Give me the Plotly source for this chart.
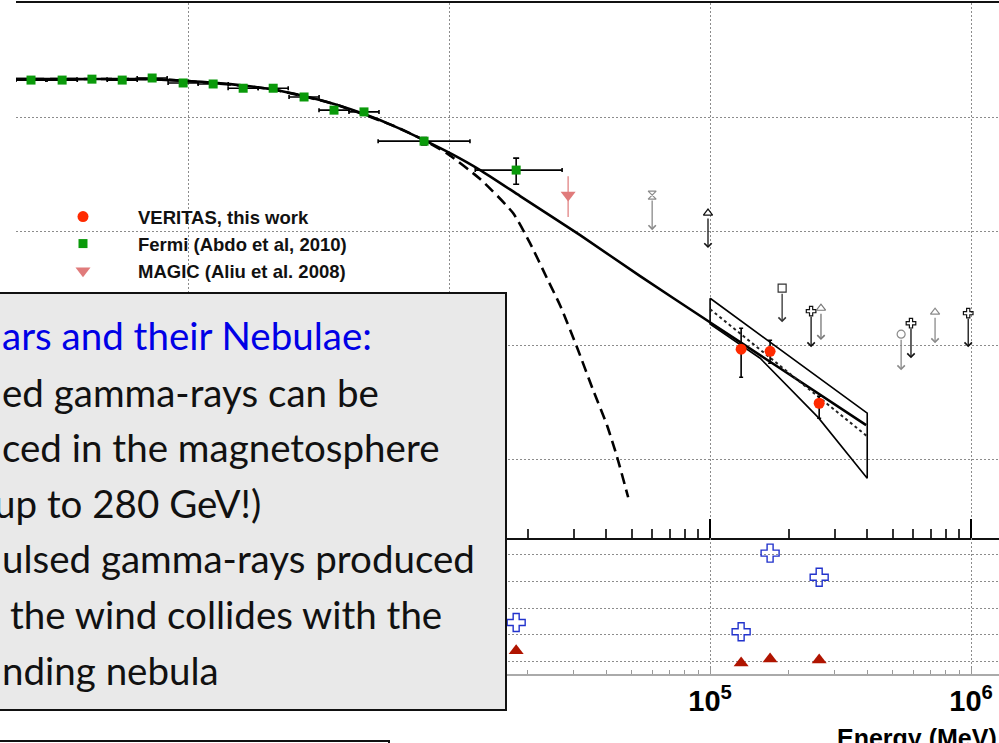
import numpy as np
import plotly.graph_objects as go

# ---------------- data (E in MeV, E^2 dN/dE in erg cm^-2 s^-1) ----------------
fermi_E = [250, 329, 428, 559, 728, 957, 1247, 1625, 2118, 2781, 3622, 4719, 8017, 18070]
fermi_E_lo = [219, 288, 375, 490, 638, 838, 1092, 1423, 1855, 2436, 3173, 4134, 5346, 12590]
fermi_E_hi = [285, 376, 489, 638, 831, 1092, 1424, 1855, 2418, 3175, 4135, 5387, 12020, 27100]
fermi_flux = [2.11e-10, 2.11e-10, 2.15e-10, 2.11e-10, 2.20e-10, 1.99e-10, 1.95e-10,
              1.79e-10, 1.79e-10, 1.50e-10, 1.15e-10, 1.11e-10, 6.15e-11, 3.43e-11]
fermi_flux_lo = [2.05e-10, 2.05e-10, 2.09e-10, 2.05e-10, 2.13e-10, 1.93e-10, 1.89e-10,
                 1.73e-10, 1.72e-10, 1.44e-10, 1.09e-10, 1.04e-10, 5.70e-11, 2.58e-11]
fermi_flux_hi = [2.17e-10, 2.17e-10, 2.21e-10, 2.17e-10, 2.27e-10, 2.05e-10, 2.01e-10,
                 1.85e-10, 1.86e-10, 1.56e-10, 1.21e-10, 1.18e-10, 6.60e-11, 4.37e-11]

veritas_E = [131500, 169800, 261800]
veritas_flux = [9.23e-13, 8.85e-13, 3.10e-13]
veritas_flux_lo = [5.24e-13, 6.95e-13, 2.29e-13]
veritas_flux_hi = [1.41e-12, 1.107e-12, 3.57e-13]

magic_E = [28580]
magic_flux = [2.07e-11]
magic_flux_lo = [1.33e-11]
magic_flux_hi = [3.03e-11]

# upper limits from other instruments
ul_E = [59980, 98170, 188800, 243800, 266000, 539500, 588500, 727800, 975000]
ul_flux = [2.07e-11, 1.44e-11, 3.16e-12, 1.99e-12, 2.11e-12, 1.25e-12, 1.56e-12, 1.95e-12, 1.91e-12]
ul_arrow_end = [1.02e-11, 7.10e-12, 1.59e-12, 9.6e-13, 1.11e-12, 6.04e-13, 7.69e-13, 1.04e-12, 9.6e-13]
ul_symbols = ["hourglass-open", "triangle-up-open", "square-open", "cross-open", "triangle-up-open",
              "circle-open", "cross-open", "triangle-up-open", "cross-open"]
ul_colors = ["#8a8a8a", "#111111", "#333333", "#111111", "#777777",
             "#8a8a8a", "#111111", "#8a8a8a", "#111111"]

# broken power-law fit
bpl_E = [219, 385, 714, 1000, 1449, 2061, 2780, 3622, 4721, 6152, 8017, 10257, 13150,
         18710, 31770, 53950, 98170, 185350, 396300]
bpl_flux = [2.153e-10, 2.153e-10, 2.153e-10, 2.07e-10, 1.945e-10, 1.762e-10, 1.528e-10,
            1.30e-10, 1.062e-10, 8.34e-11, 6.28e-11, 4.73e-11, 3.43e-11, 2.03e-11,
            9.23e-12, 4.03e-12, 1.63e-12, 6.28e-13, 1.99e-13]

# power law with exponential cutoff
ecpl_E = [219, 385, 714, 1000, 2061, 3622, 6152, 8017, 9908, 13150, 17580, 20420, 23710,
          26610, 30900, 35650, 40270, 44050, 48530]
ecpl_flux = [2.153e-10, 2.153e-10, 2.153e-10, 2.07e-10, 1.762e-10, 1.30e-10, 8.34e-11,
             6.28e-11, 4.73e-11, 2.86e-11, 1.44e-11, 7.85e-12, 3.87e-12, 2.24e-12,
             9.6e-13, 4.03e-13, 1.99e-13, 1.04e-13, 4.65e-14]

# VERITAS power-law fit and its confidence bow-tie
pl_E = [1.0e5, 4.0e5]
pl_flux = [2.07e-12, 1.59e-13]
bowtie_E_up = [1.0e5, 4.0e5]
bowtie_flux_up = [2.58e-12, 2.54e-13]
bowtie_E_low = [1.0e5, 1.556e5, 2.594e5, 4.0e5]
bowtie_flux_low = [1.53e-12, 7.69e-13, 2.33e-13, 6.81e-14]

# lower panel
lower_E = [18070, 131500, 169800, 261800]
lower_cross = [2.46, 2.12, 5.04, 4.14]
lower_tri = [1.41, 0.96, 1.11, 1.07]

decades = [2, 3, 4, 5, 6]
minor_mult = [2, 3, 4, 5, 6, 7, 8, 9]
major_ticks = [1e3, 1e4, 1e5, 1e6]
major_labels = ["10<sup>3</sup>", "10<sup>4</sup>", "10<sup>5</sup>", "10<sup>6</sup>"]

box_lines = ["ars and their Nebulae:", "ed gamma-rays can be", "ced in the magnetosphere",
             "up to 280 GeV!)", "ulsed gamma-rays produced", "the wind collides with the",
             "nding nebula"]

# ---------------- figure ----------------
W, H = 999, 743
ML, MR, MT, MB = 16, 0, 3, 69
PW, PH = W - ML - MR, H - MT - MB


def px_x(px):
    return (px - ML) / PW


def px_y(py):
    return (H - MB - py) / PH


fig = go.Figure()

fig.add_trace(go.Scatter(x=ecpl_E, y=ecpl_flux, mode="lines",
                         line=dict(color="black", width=2.6, dash="11px,6px", shape="spline", smoothing=0.6),
                         showlegend=False, hoverinfo="skip"))
fig.add_trace(go.Scatter(x=bpl_E, y=bpl_flux, mode="lines",
                         line=dict(color="black", width=2.6, shape="spline", smoothing=0.6),
                         showlegend=False, hoverinfo="skip"))

bow_x = [bowtie_E_up[0], bowtie_E_up[1]] + bowtie_E_low[::-1] + [bowtie_E_up[0]]
bow_y = [bowtie_flux_up[0], bowtie_flux_up[1]] + bowtie_flux_low[::-1] + [bowtie_flux_up[0]]
fig.add_trace(go.Scatter(x=bow_x, y=bow_y, mode="lines", line=dict(color="black", width=1.6),
                         showlegend=False, hoverinfo="skip"))
fig.add_trace(go.Scatter(x=pl_E, y=pl_flux, mode="lines", line=dict(color="#222", width=2, dash="dot"),
                         showlegend=False, hoverinfo="skip"))

# upper limits
fig.add_trace(go.Scatter(x=ul_E, y=ul_flux, mode="markers",
                         marker=dict(symbol=ul_symbols, size=8, color=ul_colors, line=dict(width=1.2, color=ul_colors)),
                         showlegend=False, hoverinfo="skip"))
for e, f, tip, c in zip(ul_E, ul_flux, ul_arrow_end, ul_colors):
    fig.add_annotation(x=np.log10(e), y=np.log10(tip), ax=np.log10(e), ay=np.log10(f),
                       xref="x", yref="y", axref="x", ayref="y", text="", showarrow=True,
                       arrowhead=4, arrowsize=1.1, arrowwidth=1.3, arrowcolor=c,
                       standoff=0, startstandoff=4)

fermi = go.Scatter(
    x=fermi_E, y=fermi_flux, mode="markers", name="Fermi (Abdo et al, 2010)", legendrank=2,
    marker=dict(symbol="square", size=9, color="#0a9a0a"),
    error_x=dict(type="data", symmetric=False,
                 array=[h - e for h, e in zip(fermi_E_hi, fermi_E)],
                 arrayminus=[e - l for e, l in zip(fermi_E, fermi_E_lo)],
                 color="black", thickness=1.6, width=2),
    error_y=dict(type="data", symmetric=False,
                 array=[h - f for h, f in zip(fermi_flux_hi, fermi_flux)],
                 arrayminus=[f - l for f, l in zip(fermi_flux, fermi_flux_lo)],
                 color="black", thickness=1.6, width=3),
    hoverinfo="skip")
magic = go.Scatter(
    x=magic_E, y=magic_flux, mode="markers", name="MAGIC (Aliu et al. 2008)", legendrank=3,
    marker=dict(symbol="triangle-down", size=13, color="#e07b7b"),
    error_y=dict(type="data", symmetric=False,
                 array=[h - f for h, f in zip(magic_flux_hi, magic_flux)],
                 arrayminus=[f - l for f, l in zip(magic_flux, magic_flux_lo)],
                 color="#e59494", thickness=1.5, width=0),
    hoverinfo="skip")
veritas = go.Scatter(
    x=veritas_E, y=veritas_flux, mode="markers", name="VERITAS, this work", legendrank=1,
    marker=dict(symbol="circle", size=11, color="#ff2a00"),
    error_y=dict(type="data", symmetric=False,
                 array=[h - f for h, f in zip(veritas_flux_hi, veritas_flux)],
                 arrayminus=[f - l for f, l in zip(veritas_flux, veritas_flux_lo)],
                 color="black", thickness=1.6, width=2),
    hoverinfo="skip")
for tr in (fermi, magic, veritas):
    fig.add_trace(tr)

# lower panel
fig.add_trace(go.Scatter(x=lower_E, y=lower_cross, xaxis="x2", yaxis="y2", mode="markers",
                         marker=dict(symbol="cross-open", size=15, color="#2233cc", line=dict(width=1.4, color="#2233cc")),
                         showlegend=False, hoverinfo="skip"))
fig.add_trace(go.Scatter(x=lower_E, y=lower_tri, xaxis="x2", yaxis="y2", mode="markers",
                         marker=dict(symbol="triangle-up", size=13, color="#b01400"),
                         showlegend=False, hoverinfo="skip"))

minor_ticks = [m * 10 ** d for d in decades for m in minor_mult]
grid_style = dict(showgrid=True, gridcolor="#8c8c8c", gridwidth=1, griddash="2px,2px")
x_range = [np.log10(fermi_E_lo[0]), 6.107]
split = px_y(538)

fig.update_layout(
    width=W, height=H, margin=dict(l=ML, r=MR, t=MT, b=MB),
    paper_bgcolor="white", plot_bgcolor="white",
    showlegend=True,
    xaxis=dict(type="log", range=x_range, domain=[0, 1], anchor="y", showticklabels=False,
               tickmode="array", tickvals=major_ticks, ticks="inside", ticklen=19, tickwidth=2,
               tickcolor="black", showline=True, linecolor="#111", linewidth=2, mirror=True,
               zeroline=False,
               minor=dict(tickmode="array", tickvals=minor_ticks, ticks="inside", ticklen=9,
                          tickwidth=1.5, tickcolor="#333", showgrid=False),
               **grid_style),
    yaxis=dict(type="log", range=[-13.69, -9.0], domain=[split, 1], anchor="x",
               showticklabels=False, ticks="", tickmode="linear", tick0=0, dtick=1,
               showline=False, zeroline=False, **grid_style),
    xaxis2=dict(type="log", matches="x", anchor="y2", domain=[0, 1],
                tickmode="array", tickvals=major_ticks, ticktext=major_labels,
                ticks="inside", ticklen=6, tickwidth=1, tickcolor="#999", ticklabelstandoff=0,
                tickfont=dict(family="Liberation Sans", size=29, color="black", weight="bold"),
                showline=True, linecolor="#aaaaaa", linewidth=2, zeroline=False,
                minor=dict(tickmode="array", tickvals=minor_ticks, ticks="inside", ticklen=4,
                           tickwidth=1, tickcolor="#999", showgrid=False),
                **grid_style),
    yaxis2=dict(range=[0.55, 5.6], domain=[0, split], anchor="x2", showticklabels=False,
                ticks="", tickmode="linear", tick0=1, dtick=1, showline=False, zeroline=False,
                **grid_style),
    legend=dict(x=px_x(28), y=px_y(198), xanchor="left", yanchor="top", bgcolor="rgba(0,0,0,0)",
                borderwidth=0, itemwidth=100, traceorder="normal", tracegroupgap=0,
                font=dict(family="Liberation Sans", size=18.5, color="#111", weight="bold")),
)

# text box overlaid on the chart
fig.add_shape(type="rect", xref="paper", yref="paper", x0=px_x(-20), x1=px_x(506),
              y0=px_y(710), y1=px_y(293), fillcolor="#e9e9e9",
              line=dict(color="#111", width=2), layer="above")
fig.add_shape(type="rect", xref="paper", yref="paper", x0=px_x(-20), x1=px_x(389),
              y0=px_y(790), y1=px_y(741), fillcolor="white",
              line=dict(color="#111", width=2), layer="above")

line_base = [350, 407, 462, 518, 573, 629, 685]
line_x = [0, 0, 0, -8, 0, 8, 0]
TS = 38.5
for i, (txt, yb, xl) in enumerate(zip(box_lines, line_base, line_x)):
    fig.add_annotation(xref="paper", yref="paper", x=0, y=0, xanchor="left", yanchor="middle",
                       xshift=xl - ML, yshift=(H - MB) - (yb - 0.387 * TS), text=txt, showarrow=False,
                       font=dict(family="Lato", size=TS, color="#0000e6" if i == 0 else "#111"))

fig.add_annotation(xref="paper", yref="paper", x=1, y=0, xanchor="right", yanchor="top",
                   xshift=0, yshift=-(722 - (H - MB)), text="Energy (MeV)", showarrow=False,
                   font=dict(family="Liberation Sans", size=25, color="black", weight="bold"))

fig.write_html("out.html")
